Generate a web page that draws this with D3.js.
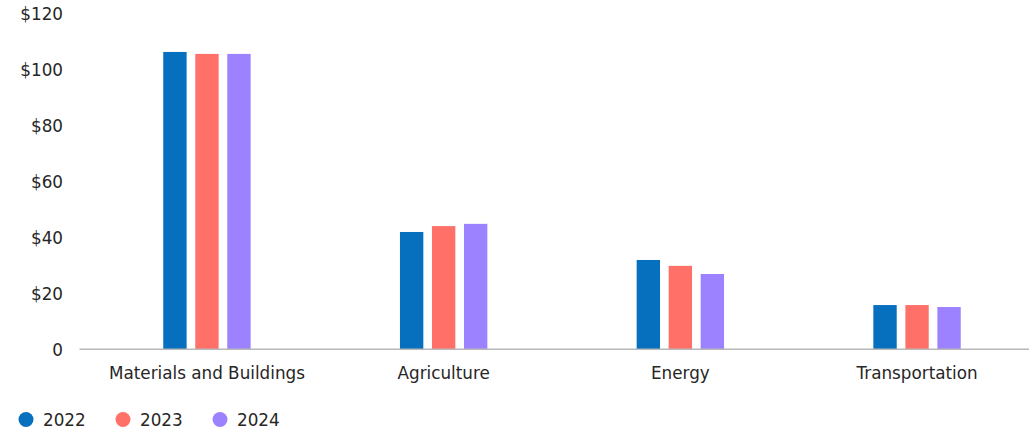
<!DOCTYPE html>
<html>
<head>
<meta charset="utf-8">
<script src="https://cdn.jsdelivr.net/npm/d3@7"></script>
<style>
  html, body { margin: 0; padding: 0; background: #fff; }
  svg { display: block; }
  text { font-family: "DejaVu Sans", sans-serif; fill: #262626; }
</style>
</head>
<body>
<svg id="chart" width="1029" height="431"></svg>
<script>
const categories = ["Materials and Buildings", "Agriculture", "Energy", "Transportation"];
const years = ["2022", "2023", "2024"];
const values2022 = [106.2, 41.9, 31.9, 15.8];
const values2023 = [105.5, 44.0, 29.8, 15.8];
const values2024 = [105.5, 44.8, 26.9, 15.1];
const yTicks = [0, 20, 40, 60, 80, 100, 120];
const colors = ["#0670BE", "#FF7168", "#9D82FF"];

const series = [values2022, values2023, values2024];

const svg = d3.select("#chart");
const W = 1029, H = 431;
const FONT = "'DejaVu Sans', sans-serif";

const x0 = d3.scaleBand().domain(categories).range([88.6, 1035.4]).paddingInner(0).paddingOuter(0);
const x1 = d3.scaleBand().domain(years).range([-43.7, 43.7]).paddingInner(0.27).paddingOuter(0);
const y = d3.scaleLinear().domain([0, 120]).range([349.3, 13.3]);

// y axis labels
const yAxis = d3.axisLeft(y).tickValues(yTicks).tickSize(0).tickPadding(0)
  .tickFormat(d => d === 0 ? "0" : "$" + d);
const gy = svg.append("g").attr("transform", "translate(63,0)").call(yAxis);
gy.select(".domain").remove();
gy.selectAll("text").attr("dy", "0.36em").style("font-size", "16.8px").style("font-family", FONT).attr("fill", "#262626");

// bars
const groups = svg.append("g").selectAll("g").data(categories).join("g")
  .attr("transform", d => `translate(${x0(d) + x0.bandwidth() / 2},0)`);
groups.selectAll("rect")
  .data((c, i) => years.map((yr, k) => ({ yr, v: series[k][i], k })))
  .join("rect")
  .attr("x", d => x1(d.yr))
  .attr("width", x1.bandwidth())
  .attr("y", d => y(d.v))
  .attr("height", d => y(0) - y(d.v))
  .attr("fill", d => colors[d.k]);

// baseline
svg.append("line").attr("x1", 79.5).attr("x2", W).attr("y1", y(0)).attr("y2", y(0))
  .attr("stroke", "#b8b8b8").attr("stroke-width", 1.5);

// x axis labels
const xAxis = d3.axisBottom(x0).tickSize(0).tickPadding(0);
const gx = svg.append("g").attr("transform", `translate(0,${y(0)})`).call(xAxis);
gx.select(".domain").remove();
gx.selectAll("text").attr("y", 29.8).attr("dy", null)
  .style("font-size", "16.8px").style("font-family", FONT).attr("fill", "#262626");

// legend
const legendX = [26, 123, 220];
const leg = svg.append("g").selectAll("g").data(years).join("g")
  .attr("transform", (d, i) => `translate(${legendX[i]},419.5)`);
leg.append("circle").attr("r", 7.5).attr("fill", (d, i) => colors[i]);
leg.append("text").attr("x", 17).attr("dy", "0.36em").text(d => d)
  .style("font-size", "16.8px");
</script>
</body>
</html>
